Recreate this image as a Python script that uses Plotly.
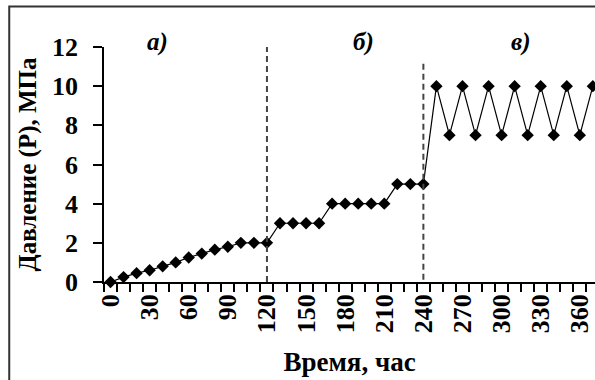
import plotly.graph_objects as go

# Data
hours = list(range(0, 380, 10))
pressure = [0, 0.25, 0.45, 0.6, 0.8, 1.0, 1.25, 1.45, 1.65, 1.8, 2, 2, 2,
            3, 3, 3, 3,
            4, 4, 4, 4, 4,
            5, 5, 5,
            10, 7.5, 10, 7.5, 10, 7.5, 10, 7.5, 10, 7.5, 10, 7.5, 10]
x_tick_vals = list(range(0, 361, 30))
x_tick_text = [str(v) for v in x_tick_vals]
y_tick_vals = list(range(0, 13, 2))
stage_labels = ["а)", "б)", "в)"]
stage_label_x = [36, 194, 315]
boundary_x = [120, 240]
boundary_y0 = [0, -0.9]
boundary_y1 = [12, 11.2]

FONT = "Liberation Serif"

fig = go.Figure()
fig.add_trace(go.Scatter(
    x=hours, y=pressure, mode="lines+markers",
    line=dict(color="black", width=1.2),
    marker=dict(symbol="diamond", size=9.5, color="black"),
    cliponaxis=False, showlegend=False,
))

shapes = []
for bx, y0, y1 in zip(boundary_x, boundary_y0, boundary_y1):
    shapes.append(dict(type="line", xref="x", yref="y", x0=bx, x1=bx, y0=y0, y1=y1,
                       line=dict(color="#444444", width=2, dash="6px,4px"), layer="above"))
# outer chart frame (cropped at right and bottom)
shapes.append(dict(type="rect", xref="paper", yref="paper",
                   x0=-0.193, x1=1.05, y0=-0.6, y1=1.172,
                   line=dict(color="#333333", width=2), layer="above"))

annotations = []
for txt, ax in zip(stage_labels, stage_label_x):
    annotations.append(dict(x=ax, y=1.02, xref="x", yref="paper", text=txt, showarrow=False,
                            font=dict(family=FONT, size=25, color="black", weight="bold", style="italic"),
                            yanchor="middle"))

fig.update_layout(
    width=595, height=380,
    margin=dict(l=104, r=0, t=47, b=98),
    paper_bgcolor="white", plot_bgcolor="white",
    shapes=shapes, annotations=annotations,
    font=dict(family=FONT, color="black"),
)
fig.update_xaxes(
    automargin=False,
    range=[-5, 371.65], showgrid=False, zeroline=False,
    showline=True, linecolor="black", linewidth=1.5,
    tickmode="array", tickvals=x_tick_vals, ticktext=x_tick_text,
    tickangle=-90, ticks="outside", ticklen=0,
    tickfont=dict(family=FONT, size=26, color="black", weight="bold"),
    minor=dict(tick0=5, dtick=10, ticks="outside", ticklen=8, tickcolor="black", tickwidth=1.5),
    title=dict(text="Время, час", font=dict(family=FONT, size=27, color="black", weight="bold"),
               standoff=20),
)
fig.update_yaxes(
    automargin=False,
    range=[0, 12], showgrid=False, zeroline=False,
    showline=True, linecolor="black", linewidth=1.5,
    tickmode="array", tickvals=y_tick_vals,
    ticks="outside", ticklen=9, tickcolor="black", tickwidth=1.5,
    ticklabelstandoff=10,
    tickfont=dict(family=FONT, size=26, color="black", weight="bold"),
    title=dict(text="Давление (Р), МПа", font=dict(family=FONT, size=25, color="black", weight="bold"),
               standoff=8),
)

fig.write_html("out.html", config={"displayModeBar": False},
               post_script="document.body.style.margin='0px';")
